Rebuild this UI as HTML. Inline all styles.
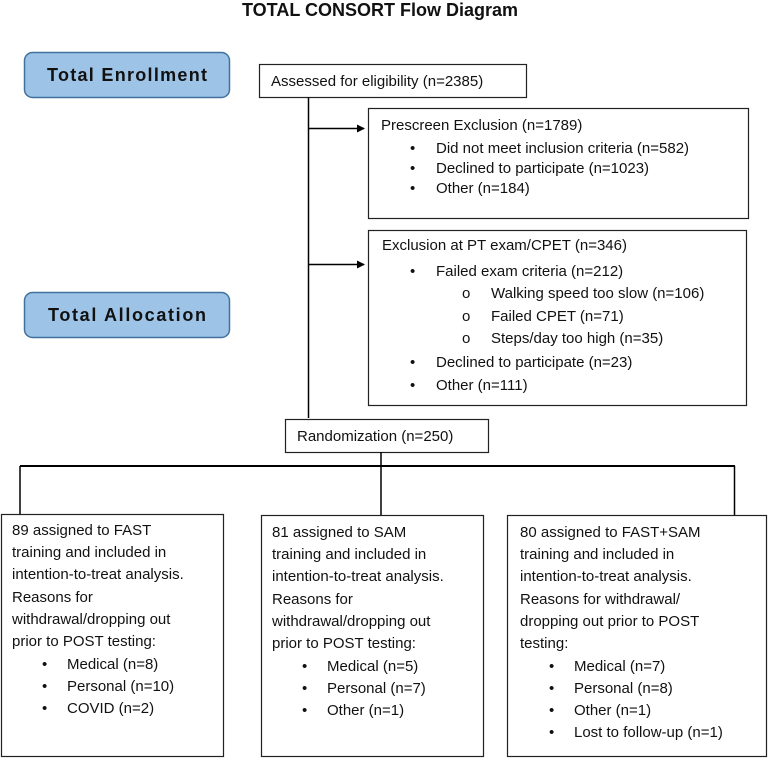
<!DOCTYPE html>
<html><head><meta charset="utf-8"><style>
html,body{margin:0;padding:0;background:#fff;}
svg{display:block;font-family:"Liberation Sans",Arial,sans-serif;}
text{font-size:15px;fill:#111;}
</style></head><body>
<svg width="768" height="758" viewBox="0 0 768 758" xmlns="http://www.w3.org/2000/svg">
<defs><marker id="a" markerWidth="8" markerHeight="8" refX="7" refY="4" orient="auto" markerUnits="userSpaceOnUse"><path d="M0,0 L8,4 L0,8 Z" fill="#000"/></marker></defs>
<text x="380" y="16" text-anchor="middle" style="font-size:18px;font-weight:bold">TOTAL CONSORT Flow Diagram</text>

<rect x="24.5" y="52.5" width="205" height="45" rx="8" fill="#9dc3e6" stroke="#41719c" stroke-width="1.5"/>
<text x="127" y="81" text-anchor="middle" style="font-size:18px;font-weight:bold" textLength="160">Total Enrollment</text>
<rect x="24.5" y="292.5" width="205" height="45" rx="8" fill="#9dc3e6" stroke="#41719c" stroke-width="1.5"/>
<text x="127" y="321" text-anchor="middle" style="font-size:18px;font-weight:bold" textLength="158">Total Allocation</text>

<g fill="#fff" stroke="#222" stroke-width="1.2">
<rect x="259.5" y="64.5" width="267" height="33"/>
<rect x="368.5" y="108.5" width="380" height="110"/>
<rect x="368.5" y="230.5" width="378" height="175"/>
<rect x="285.5" y="419.5" width="203" height="33"/>
<rect x="1.5" y="514.5" width="222" height="242"/>
<rect x="261.5" y="515.5" width="222" height="241"/>
<rect x="507.5" y="515.5" width="259" height="241"/>
</g>
<g stroke="#000" stroke-width="1.5" fill="none">
<line x1="308.5" y1="97" x2="308.5" y2="418"/>
<line x1="308.5" y1="128.5" x2="364" y2="128.5" marker-end="url(#a)"/>
<line x1="308.5" y1="264.5" x2="364" y2="264.5" marker-end="url(#a)"/>
<line x1="381" y1="452" x2="381" y2="515"/>
<line x1="20" y1="466" x2="735" y2="466" stroke-width="2"/>
<line x1="20" y1="466" x2="20" y2="514"/>
<line x1="734.5" y1="466" x2="734.5" y2="515"/>
</g>

<text x="271" y="86">Assessed for eligibility (n=2385)</text>

<text x="381" y="130">Prescreen Exclusion (n=1789)</text>
<text x="410" y="153">•</text><text x="436" y="153">Did not meet inclusion criteria (n=582)</text>
<text x="410" y="173">•</text><text x="436" y="173">Declined to participate (n=1023)</text>
<text x="410" y="193">•</text><text x="436" y="193">Other (n=184)</text>

<text x="382" y="250">Exclusion at PT exam/CPET (n=346)</text>
<text x="410" y="276">•</text><text x="436" y="276">Failed exam criteria (n=212)</text>
<text x="462" y="298">o</text><text x="491" y="298">Walking speed too slow  (n=106)</text>
<text x="462" y="321">o</text><text x="491" y="321">Failed CPET (n=71)</text>
<text x="462" y="343">o</text><text x="491" y="343">Steps/day too high (n=35)</text>
<text x="410" y="367">•</text><text x="436" y="367">Declined to participate (n=23)</text>
<text x="410" y="390">•</text><text x="436" y="390">Other (n=111)</text>

<text x="297" y="441">Randomization (n=250)</text>

<g>
<text x="12" y="535">89 assigned to FAST</text>
<text x="12" y="557">training and included in</text>
<text x="12" y="579">intention-to-treat analysis.</text>
<text x="12" y="602">Reasons for</text>
<text x="12" y="624">withdrawal/dropping out</text>
<text x="12" y="646">prior to POST testing:</text>
<text x="42" y="669">•</text><text x="67" y="669">Medical (n=8)</text>
<text x="42" y="691">•</text><text x="67" y="691">Personal (n=10)</text>
<text x="42" y="713">•</text><text x="67" y="713">COVID (n=2)</text>
</g>
<g>
<text x="272" y="537">81 assigned to SAM</text>
<text x="272" y="559">training and included in</text>
<text x="272" y="581">intention-to-treat analysis.</text>
<text x="272" y="604">Reasons for</text>
<text x="272" y="626">withdrawal/dropping out</text>
<text x="272" y="648">prior to POST testing:</text>
<text x="302" y="671">•</text><text x="327" y="671">Medical (n=5)</text>
<text x="302" y="693">•</text><text x="327" y="693">Personal (n=7)</text>
<text x="302" y="715">•</text><text x="327" y="715">Other (n=1)</text>
</g>
<g>
<text x="520" y="537">80 assigned to FAST+SAM</text>
<text x="520" y="559">training and included in</text>
<text x="520" y="581">intention-to-treat analysis.</text>
<text x="520" y="604">Reasons for withdrawal/</text>
<text x="520" y="626">dropping out prior to POST</text>
<text x="520" y="648">testing:</text>
<text x="549" y="671">•</text><text x="574" y="671">Medical (n=7)</text>
<text x="549" y="693">•</text><text x="574" y="693">Personal (n=8)</text>
<text x="549" y="715">•</text><text x="574" y="715">Other (n=1)</text>
<text x="549" y="737">•</text><text x="574" y="737">Lost to follow-up (n=1)</text>
</g>
</svg>
</body></html>
